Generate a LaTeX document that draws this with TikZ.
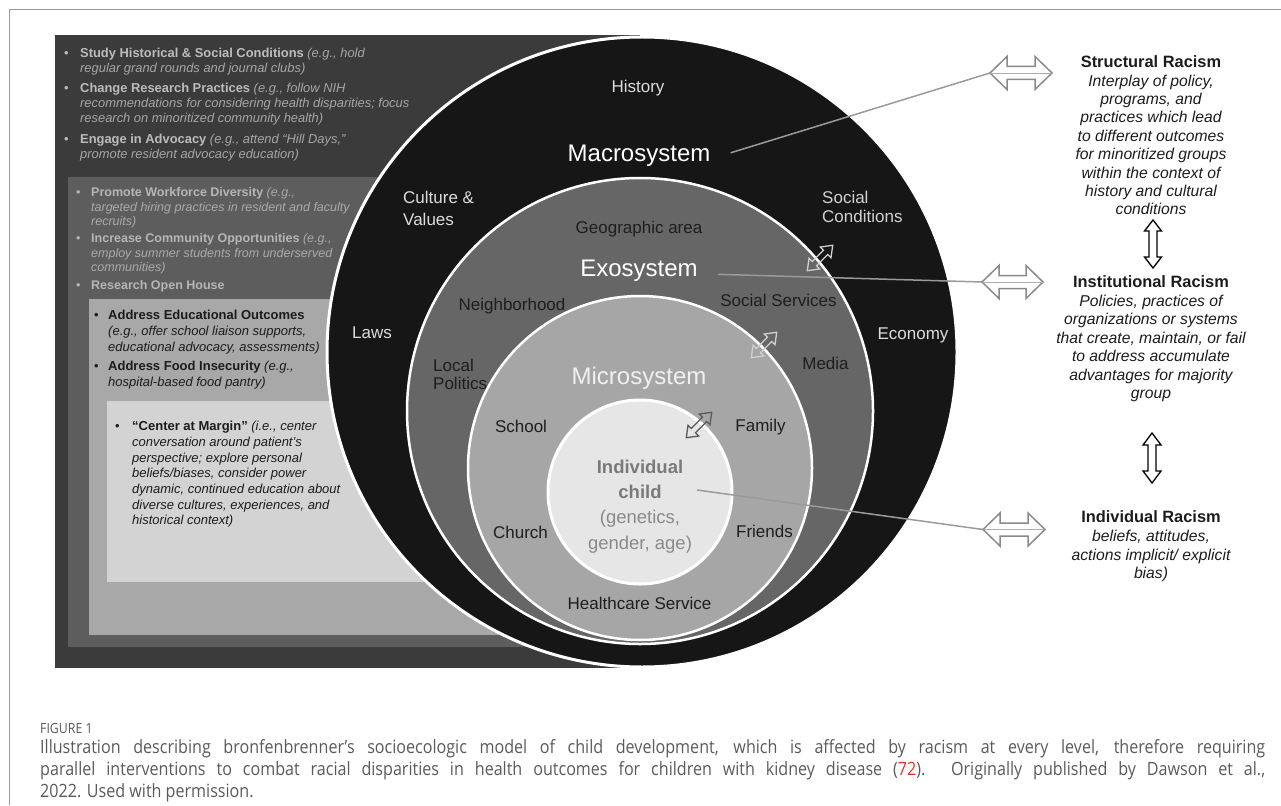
\documentclass[tikz,border=0pt]{standalone}
\usepackage{fontspec}
\setmainfont{Liberation Sans}
\newfontfamily\capfont{Open Sans}[FakeStretch=0.88]
\definecolor{framec}{HTML}{9A9A9A}
\definecolor{pA}{HTML}{3B3B3B}
\definecolor{pB}{HTML}{5D5D5D}
\definecolor{pC}{HTML}{A8A8A8}
\definecolor{pD}{HTML}{D3D3D3}
\definecolor{macroC}{HTML}{161616}
\definecolor{exoC}{HTML}{666666}
\definecolor{microC}{HTML}{A6A6A6}
\definecolor{indC}{HTML}{E6E6E6}
\definecolor{lblW}{HTML}{DCDCDC}
\definecolor{lblD}{HTML}{1E1E1E}
\definecolor{connC}{HTML}{9A9A9A}
\definecolor{bigA}{HTML}{8A8A8A}
\definecolor{arrL}{HTML}{D0D0D0}
\definecolor{arrD}{HTML}{5A5A5A}
\definecolor{p1b}{HTML}{BCBCBC}
\definecolor{p1i}{HTML}{A6A6A6}
\definecolor{p2b}{HTML}{B6B6B6}
\definecolor{p2i}{HTML}{AAAAAA}
\definecolor{darkT}{HTML}{1C1C1C}
\definecolor{childB}{HTML}{7A7A7A}
\definecolor{childN}{HTML}{8A8A8A}
\definecolor{capgray}{HTML}{5A5A5A}
\definecolor{capred}{HTML}{D9342B}
\newcommand\bitem[3]{\makebox[#1][l]{\textbullet}\parbox[t]{#2}{\raggedright #3}}
\newcommand\pai[1]{\textcolor{p1i}{\textit{#1}}}
\newcommand\pbi[1]{\textcolor{p2i}{\textit{#1}}}
\tikzset{pics/dbl/.style n args={4}{code={\path[pic actions] (-#1,0) -- ({-#1+#4},#2) -- ({-#1+#4},#3) -- ({#1-#4},#3) -- ({#1-#4},#2) -- (#1,0) -- ({#1-#4},-#2) -- ({#1-#4},-#3) -- ({-#1+#4},-#3) -- ({-#1+#4},-#2) -- cycle;}}}
\begin{document}
\begin{tikzpicture}[x=1pt,y=-1pt,
  lbl/.style={font=\fontsize{17}{20}\selectfont, anchor=base, inner sep=0pt},
  lblw/.style={lbl, text=lblW},
  lbld/.style={lbl, text=lblD},
  hd/.style={font=\fontsize{24}{28}\selectfont, anchor=base, inner sep=0pt},
  pn1/.style={font=\fontsize{12.9}{15}\selectfont, anchor=base west, inner sep=0pt, text=p1b},
  pn2/.style={font=\fontsize{12.5}{14.6}\selectfont, anchor=base west, inner sep=0pt, text=p2b},
  pn3/.style={font=\fontsize{13}{15.8}\selectfont, anchor=base west, inner sep=0pt, text=darkT},
  pn4/.style={font=\fontsize{13}{15.7}\selectfont, anchor=base west, inner sep=0pt, text=darkT},
  rt/.style={anchor=base, inner sep=0pt, text=darkT},
  conn/.style={draw=connC, line width=1.5pt},
  ring/.style={draw=white, line width=3pt},
  bigarr/.style={draw=bigA, fill=white, line width=1.5pt, line join=miter},
  varr/.style={draw=black, fill=white, line width=1.3pt},
  smarr/.style={line width=1.3pt, rotate=45},
  cline/.style={draw=bigA!70, line width=0.8pt}
]
\useasboundingbox (0,0) rectangle (1281,805);
% page frame
\draw[framec, line width=1pt] (9.5,805) -- (9.5,9.5) -- (1281,9.5);
% left panels
\fill[pA] (55,35) rectangle (640,668);
\fill[pB] (68,177) rectangle (640,647);
\fill[pC] (89,299) rectangle (640,635);
\fill[pD] (107,401) rectangle (640,582);
% circles
\filldraw[fill=macroC, ring] (642,352) circle [radius=315];
\filldraw[fill=exoC, draw=white, line width=2.5pt] (640,411) circle [radius=233];
\filldraw[fill=microC, draw=white, line width=2.5pt] (640,468) circle [radius=172];
\filldraw[fill=indC, ring] (640,492) circle [radius=92];
% panel texts
\node[pn1] (s1) at (64,57.5) {\bitem{16pt}{340pt}{\textbf{Study Historical \& Social Conditions} \pai{(e.g., hold}\\\pai{regular grand rounds and journal clubs)}}};
\node[pn1] (s2) at (64,92.5) {\bitem{16pt}{340pt}{\textbf{Change Research Practices} \pai{(e.g., follow NIH}\\\pai{recommendations for considering health disparities; focus}\\\pai{research on minoritized community health)}}};
\node[pn1] (s3) at (64,143.5) {\bitem{16pt}{340pt}{\textbf{Engage in Advocacy} \pai{(e.g., attend “Hill Days,”}\\\pai{promote resident advocacy education)}}};
\node[pn2] (w1) at (76,196.5) {\bitem{15pt}{300pt}{\textbf{Promote Workforce Diversity} \pbi{(e.g.,}\\\pbi{targeted hiring practices in resident and faculty}\\\pbi{recruits)}}};
\node[pn2] (w2) at (76,242.5) {\bitem{15pt}{300pt}{\textbf{Increase Community Opportunities} \pbi{(e.g.,}\\\pbi{employ summer students from underserved}\\\pbi{communities)}}};
\node[pn2] (w3) at (76,289.5) {\bitem{15pt}{300pt}{\textbf{Research Open House}}};
\node[pn3] (e1) at (94,319.7) {\bitem{14pt}{260pt}{\textbf{Address Educational Outcomes}\\\textit{(e.g., offer school liaison supports,}\\\textit{educational advocacy, assessments)}}};
\node[pn3] (e2) at (94,370.7) {\bitem{14pt}{260pt}{\textbf{Address Food Insecurity} \textit{(e.g.,}\\\textit{hospital-based food pantry)}}};
\node[pn4] (c1) at (115,430.7) {\bitem{17pt}{240pt}{\textbf{“Center at Margin”} \textit{(i.e., center}\\\textit{conversation around patient’s}\\\textit{perspective; explore personal}\\\textit{beliefs/biases, consider power}\\\textit{dynamic, continued education about}\\\textit{diverse cultures, experiences, and}\\\textit{historical context)}}};
% macrosystem labels
\node[lblw] (hist) at (638,93) {History};
\node[hd, text=white] (macro) at (639,161.6) {Macrosystem};
\node[lblw, anchor=base west, font=\fontsize{17}{21}\selectfont] (cult) at (403,204) {\parbox[t]{100pt}{\raggedright Culture \&\\Values}};
\node[lblw, anchor=base west, font=\fontsize{17}{19.5}\selectfont, text=lblW!95!black] (socc) at (822,203) {\parbox[t]{100pt}{\raggedright Social\\Conditions}};
\node[lblw] (laws) at (372,338) {Laws};
\node[lblw] (econ) at (913,339) {Economy};
% exosystem labels
\node[lbld] (geo) at (639,233) {Geographic area};
\node[hd, text=white] (exo) at (639,276.6) {Exosystem};
\node[lbld] (neigh) at (512,310) {Neighborhood};
\node[lbld] (socs) at (778.5,306) {Social Services};
\node[lbld, anchor=base west, font=\fontsize{17}{18.5}\selectfont] (lpol) at (433,371) {\parbox[t]{80pt}{\raggedright Local\\Politics}};
\node[lbld] (media) at (825.5,369) {Media};
% microsystem labels
\node[hd, text=white!94!black] (micro) at (639,384.6) {Microsystem};
\node[lbld] (school) at (521,432) {School};
\node[lbld] (family) at (760.5,431) {Family};
\node[lbld] (church) at (520.5,538) {Church};
\node[lbld] (friends) at (764.5,537) {Friends};
\node[lbld] (hcs) at (639.5,609) {Healthcare Service};
% individual child
\node[anchor=base, inner sep=0pt, font=\fontsize{18.5}{25.4}\selectfont] (child) at (640,459.7) {\parbox[t]{160pt}{\centering\color{childB}\textbf{Individual}\\\textbf{child}\\\color{childN}(genetics,\\gender, age)}};
% small double arrows across the rings
\pic[smarr, draw=arrL] at (820,258) {dbl={18}{7.5}{3}{10}};
\pic[smarr, draw=arrL] at (764,345) {dbl={18}{7.5}{3}{10}};
\pic[smarr, draw=arrD] at (699,425) {dbl={18}{7.5}{3}{10}};
% big horizontal arrows
\coordinate (sL) at (990,73);  \coordinate (sR) at (1052,73);
\coordinate (iL) at (982,282); \coordinate (iR) at (1043,282);
\coordinate (dL) at (983,529.5); \coordinate (dR) at (1045,529.5);
\coordinate (cstart) at (697,490);
\draw[conn] ([xshift=20pt,yshift=3pt]macro.east) -- (sL);
\draw[conn] ([xshift=20pt,yshift=-3.5pt]exo.east) -- (iL);
\draw[conn] (cstart) -- (dL);
\pic[bigarr] at (1021,73) {dbl={31}{16.5}{6.5}{17}};
\pic[bigarr] at (1012.5,282) {dbl={30.5}{16.5}{6.5}{17}};
\pic[bigarr] at (1014,529.5) {dbl={31}{16.5}{6.5}{17}};
\draw[cline] (sL) -- (sR);
\draw[cline] (iL) -- (iR);
\draw[cline] (dL) -- (dR);
% vertical arrows
\pic[varr, rotate=90] at (1153,244) {dbl={24}{8.5}{4}{11}};
\pic[varr, rotate=90] at (1152,458) {dbl={25}{9}{4}{12}};
% right texts
\node[rt] (strt) at (1151,67.8) {\parbox[t]{230pt}{\centering\fontsize{16.4}{18.4}\selectfont\textbf{Structural Racism}\\\fontsize{15.7}{18.4}\selectfont\itshape Interplay of policy,\\programs, and\\practices which lead\\to different outcomes\\for minoritized groups\\within the context of\\history and cultural\\conditions}};
\node[rt] (inst) at (1151,287.8) {\parbox[t]{230pt}{\centering\fontsize{16.4}{18.5}\selectfont\textbf{Institutional Racism}\\\fontsize{15.7}{18.5}\selectfont\itshape Policies, practices of\\organizations or systems\\that create, maintain, or fail\\to address accumulate\\advantages for majority\\group}};
\node[rt] (indv) at (1151,522.8) {\parbox[t]{230pt}{\centering\fontsize{16.4}{18.7}\selectfont\textbf{Individual Racism}\\\fontsize{15.7}{18.7}\selectfont\itshape beliefs, attitudes,\\actions implicit/ explicit\\bias)}};
% caption
\node[anchor=base west, inner sep=0pt, text=capgray, font=\capfont\fontsize{14}{16}\selectfont] (fig) at (40,733) {FIGURE 1};
\node[anchor=base west, inner sep=0pt, text=capgray, font=\capfont\fontsize{18.3}{22}\selectfont] (cap) at (40,753) {\parbox[t]{1225pt}{\makebox[1225pt][s]{Illustration describing bronfenbrenner’s socioecologic model of child development, which is affected by racism at every level, therefore requiring}\\\makebox[1225pt][s]{parallel interventions to combat racial disparities in health outcomes for children with kidney disease (\textcolor{capred}{72}). Originally published by Dawson et al.,}\\2022. Used with permission.}};
\end{tikzpicture}
\end{document}
